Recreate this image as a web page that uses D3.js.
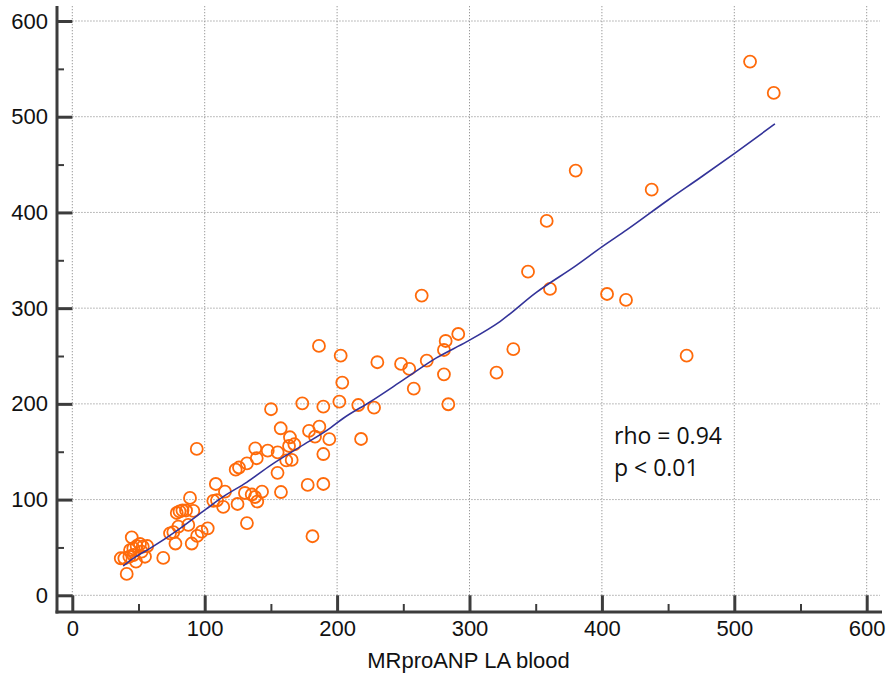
<!DOCTYPE html>
<html>
<head>
<meta charset="utf-8">
<script src="https://cdn.jsdelivr.net/npm/d3@7"></script>
<style>
  html, body { margin: 0; padding: 0; background: #fff; }
  svg { display: block; }
</style>
</head>
<body>
<div id="chart"></div>
<script>
// ---- data ----
const xTicks = [0, 100, 200, 300, 400, 500, 600];
const yTicks = [0, 100, 200, 300, 400, 500, 600];
const minorTicks = [50, 150, 250, 350, 450, 550];
const xTitle = "MRproANP LA blood";
const statLines = ["rho = 0.94", "p < 0.01"];

// scatter points (MRproANP LA blood, y value)
const pointX = [511.9, 529.8, 380.2, 437.6, 358.3, 344.2, 360.8, 403.9, 418.2, 464.0,
  333.1, 320.4, 263.9, 291.5, 282.0, 280.7, 267.7, 248.3, 254.5, 230.4,
  202.7, 186.3, 203.9, 257.9, 280.7, 284.0, 216.0, 227.9, 201.7, 173.7,
  189.6, 150.1, 194.1, 218.1, 189.6, 189.6, 177.8, 181.4, 157.4, 178.8,
  186.6, 183.3, 164.4, 167.7, 163.7, 165.7, 161.6, 155.1, 147.6, 138.2,
  139.3, 131.9, 125.9, 123.4, 155.0, 157.6, 143.3, 130.4, 135.5, 138.0,
  139.7, 124.8, 131.9, 108.4, 115.3, 114.0, 106.5, 109.3, 94.0, 88.9,
  78.9, 81.0, 83.2, 85.9, 91.4, 87.6, 80.1, 76.3, 77.9, 90.2,
  94.3, 97.7, 102.3, 68.7, 44.9, 36.6, 39.3, 41.1, 43.6, 46.1,
  48.6, 51.1, 53.2, 56.6, 46.1, 48.1, 54.9, 52.4, 43.1, 73.8];
const pointY = [557.6, 524.9, 443.7, 423.8, 391.1, 338.1, 320.1, 314.8, 308.6, 250.4,
  257.1, 232.6, 313.1, 273.0, 265.7, 256.3, 245.1, 241.7, 236.5, 243.5,
  250.4, 260.5, 222.2, 215.9, 230.9, 199.6, 198.8, 196.0, 202.3, 200.6,
  197.1, 194.4, 163.1, 163.3, 147.6, 116.3, 115.3, 61.7, 174.5, 171.7,
  176.2, 165.7, 165.1, 157.8, 156.0, 141.4, 140.9, 149.4, 151.1, 153.4,
  143.2, 137.9, 133.5, 131.2, 128.0, 107.9, 108.3, 106.9, 105.3, 102.7,
  98.0, 95.4, 75.5, 116.3, 108.3, 92.3, 98.7, 99.3, 152.9, 101.7,
  86.0, 87.6, 88.6, 88.6, 88.1, 73.5, 71.7, 66.1, 54.1, 54.1,
  62.0, 66.5, 70.0, 39.0, 60.6, 38.7, 38.7, 22.3, 47.3, 49.1,
  51.5, 53.6, 50.8, 51.5, 42.1, 35.1, 40.3, 45.6, 40.3, 64.8];

// smoothed fit line
const lineX = [38.5, 46, 58.7, 81.5, 101, 114, 131.7, 150, 172, 195, 204.7, 224.8, 250, 275, 298, 323, 350, 381, 400, 419, 450, 475, 500.5, 530.7];
const lineY = [30.6, 38.5, 49, 70, 90, 103, 118, 136, 155, 175, 185, 202, 225, 248, 265, 286, 316, 345, 364, 382, 413, 437, 462, 492.5];

// ---- chart ----
const W = 888, H = 676;
const svg = d3.select("#chart").append("svg").attr("width", W).attr("height", H);

const x = d3.scaleLinear().domain([0, 600]).range([72.3, 866.7]);
const y = d3.scaleLinear().domain([0, 600]).range([595.3, 21]);

const axisX0 = 57, axisY0 = 612;
const font = "'Liberation Sans', Arial, sans-serif";
const axisColor = "#3c3c3c";

// grid
const grid = svg.append("g");
grid.selectAll(".hg").data(yTicks).join("line")
  .attr("x1", x(0)).attr("x2", 880)
  .attr("y1", d => y(d)).attr("y2", d => y(d))
  .attr("stroke", "#9a9a9a").attr("stroke-width", 1).attr("stroke-dasharray", "1.3,1.7");
grid.selectAll(".vg").data(xTicks).join("line")
  .attr("x1", d => x(d)).attr("x2", d => x(d))
  .attr("y1", y(0)).attr("y2", 6)
  .attr("stroke", "#9a9a9a").attr("stroke-width", 1).attr("stroke-dasharray", "1.3,1.7");

// axes
const yAxis = d3.axisLeft(y).tickValues(yTicks).tickSizeInner(-(x(0) - axisX0)).tickSizeOuter(0).tickPadding(9);
const gy = svg.append("g").attr("transform", `translate(${axisX0},0)`).call(yAxis);
gy.select(".domain").remove();
gy.selectAll(".tick line").attr("stroke", axisColor).attr("stroke-width", 3);
gy.selectAll(".tick text").attr("font-family", font).attr("font-size", 22).attr("fill", "#111");

const yMinor = d3.axisLeft(y).tickValues(minorTicks).tickSizeInner(-7).tickSizeOuter(0).tickFormat("");
const gym = svg.append("g").attr("transform", `translate(${axisX0},0)`).call(yMinor);
gym.select(".domain").remove();
gym.selectAll(".tick line").attr("stroke", axisColor).attr("stroke-width", 2);

const xAxis = d3.axisBottom(x).tickValues(xTicks).tickSizeInner(-(axisY0 - y(0))).tickSizeOuter(0).tickPadding(8);
const gx = svg.append("g").attr("transform", `translate(0,${axisY0})`).call(xAxis);
gx.select(".domain").remove();
gx.selectAll(".tick line").attr("stroke", axisColor).attr("stroke-width", 3);
gx.selectAll(".tick text").attr("font-family", font).attr("font-size", 22).attr("fill", "#111");

const xMinor = d3.axisBottom(x).tickValues(minorTicks).tickSizeInner(-8).tickSizeOuter(0).tickFormat("");
const gxm = svg.append("g").attr("transform", `translate(0,${axisY0})`).call(xMinor);
gxm.select(".domain").remove();
gxm.selectAll(".tick line").attr("stroke", axisColor).attr("stroke-width", 2);

// axis lines
svg.append("line").attr("x1", axisX0).attr("x2", axisX0).attr("y1", 6).attr("y2", axisY0 + 1.5)
  .attr("stroke", axisColor).attr("stroke-width", 3);
svg.append("line").attr("x1", axisX0 - 1.5).attr("x2", 882).attr("y1", axisY0).attr("y2", axisY0)
  .attr("stroke", axisColor).attr("stroke-width", 3);

// axis title
svg.append("text").attr("x", (x(0) + x(600)) / 2 - 1).attr("y", 668)
  .attr("text-anchor", "middle").attr("font-family", font).attr("font-size", 22).attr("fill", "#111")
  .text(xTitle);

// points
const pts = pointX.map((v, i) => ({ x: v, y: pointY[i] }));
svg.append("g").selectAll("circle").data(pts).join("circle")
  .attr("cx", d => x(d.x)).attr("cy", d => y(d.y)).attr("r", 6)
  .attr("fill", "none").attr("stroke", "#ff6a0a").attr("stroke-width", 1.8);

// fit line
const lineData = lineX.map((v, i) => [v, lineY[i]]);
svg.append("path").datum(lineData)
  .attr("d", d3.line().curve(d3.curveMonotoneX).x(d => x(d[0])).y(d => y(d[1])))
  .attr("fill", "none").attr("stroke", "#333399").attr("stroke-width", 1.6);

// stats annotation
svg.append("g").selectAll("text").data(statLines).join("text")
  .attr("x", 614).attr("y", (d, i) => 444 + i * 32)
  .attr("font-family", "'Open Sans', sans-serif").attr("font-size", 23).attr("fill", "#111")
  .text(d => d);
</script>
</body>
</html>
